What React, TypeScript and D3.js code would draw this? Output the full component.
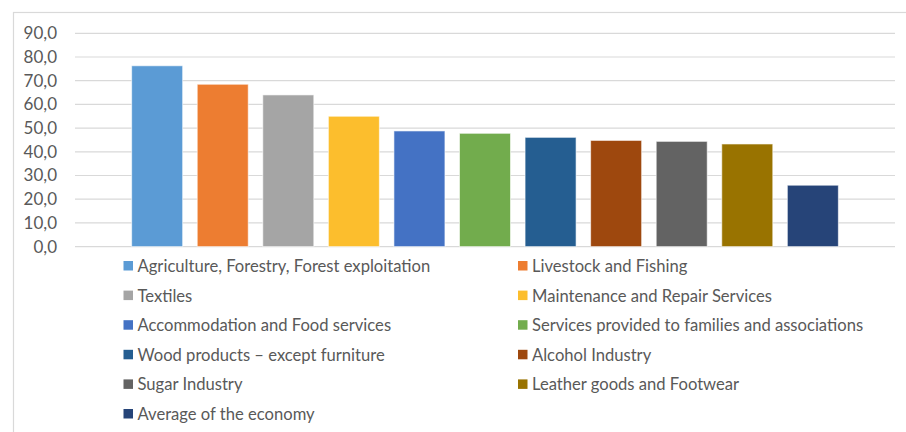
import React from "react";
import * as d3 from "d3";

const categories = [
  "Agriculture, Forestry, Forest exploitation",
  "Livestock and Fishing",
  "Textiles",
  "Maintenance and Repair Services",
  "Accommodation and Food services",
  "Services provided to families and associations",
  "Wood products \u2013 except furniture",
  "Alcohol Industry",
  "Sugar Industry",
  "Leather goods and Footwear",
  "Average of the economy",
];

const values = [76.3, 68.5, 64.0, 55.0, 48.8, 47.8, 46.1, 44.8, 44.4, 43.3, 25.9];

const colors = [
  "#5B9BD5", "#ED7D31", "#A5A5A5", "#FCBE2D", "#4472C4", "#72AC4D",
  "#255E91", "#9E480E", "#636363", "#997300", "#264478",
];

const yTicks = [0, 10, 20, 30, 40, 50, 60, 70, 80, 90];

const W = 906;
const H = 432;
const FONT = "Lato, 'Open Sans', sans-serif";

export default function App() {
  const x = d3
    .scaleBand<string>()
    .domain(categories)
    .range([75, 895])
    .paddingInner(0.222)
    .paddingOuter(0.864);
  const y = d3.scaleLinear().domain([0, 90]).range([246.6, 33.3]);
  const fmt = (v: number) => d3.format(".1f")(v).replace(".", ",");

  const legendX = [123.5, 518];
  const legendY0 = 266;
  const legendDy = 29.6;

  return (
    <svg
      width={W}
      height={H}
      style={{ position: "absolute", left: 0, top: 0, background: "#fff" }}
      fontFamily={FONT}
    >
      <rect x={0} y={0} width={W} height={H} fill="#fff" />
      <rect x={13.5} y={12.5} width={W} height={H} fill="none" stroke="#D9D9D9" strokeWidth={1.2} />
      {yTicks.map((t) => (
        <g key={t}>
          <line x1={75} x2={895} y1={y(t)} y2={y(t)} stroke="#D9D9D9" strokeWidth={1.2} />
          <text
            x={57}
            y={y(t)}
            dy="0.35em"
            textAnchor="end"
            fontSize={17}
            fill="#595959"
          >
            {fmt(t)}
          </text>
        </g>
      ))}
      {categories.map((c, i) => (
        <rect
          key={c}
          x={x(c)}
          y={y(values[i])}
          width={x.bandwidth()}
          height={y(0) - y(values[i])}
          fill={colors[i]}
          stroke="#fff"
          strokeOpacity={0.6}
          strokeWidth={1}
        />
      ))}
      {categories.map((c, i) => {
        const col = i % 2;
        const row = Math.floor(i / 2);
        const ly = legendY0 + row * legendDy;
        return (
          <g key={"l" + c}>
            <rect x={legendX[col]} y={ly - 5} width={9.5} height={9.5} fill={colors[i]} />
            <text x={legendX[col] + 14} y={ly} dy="0.36em" fontSize={16.6} fill="#595959">
              {c}
            </text>
          </g>
        );
      })}
    </svg>
  );
}
